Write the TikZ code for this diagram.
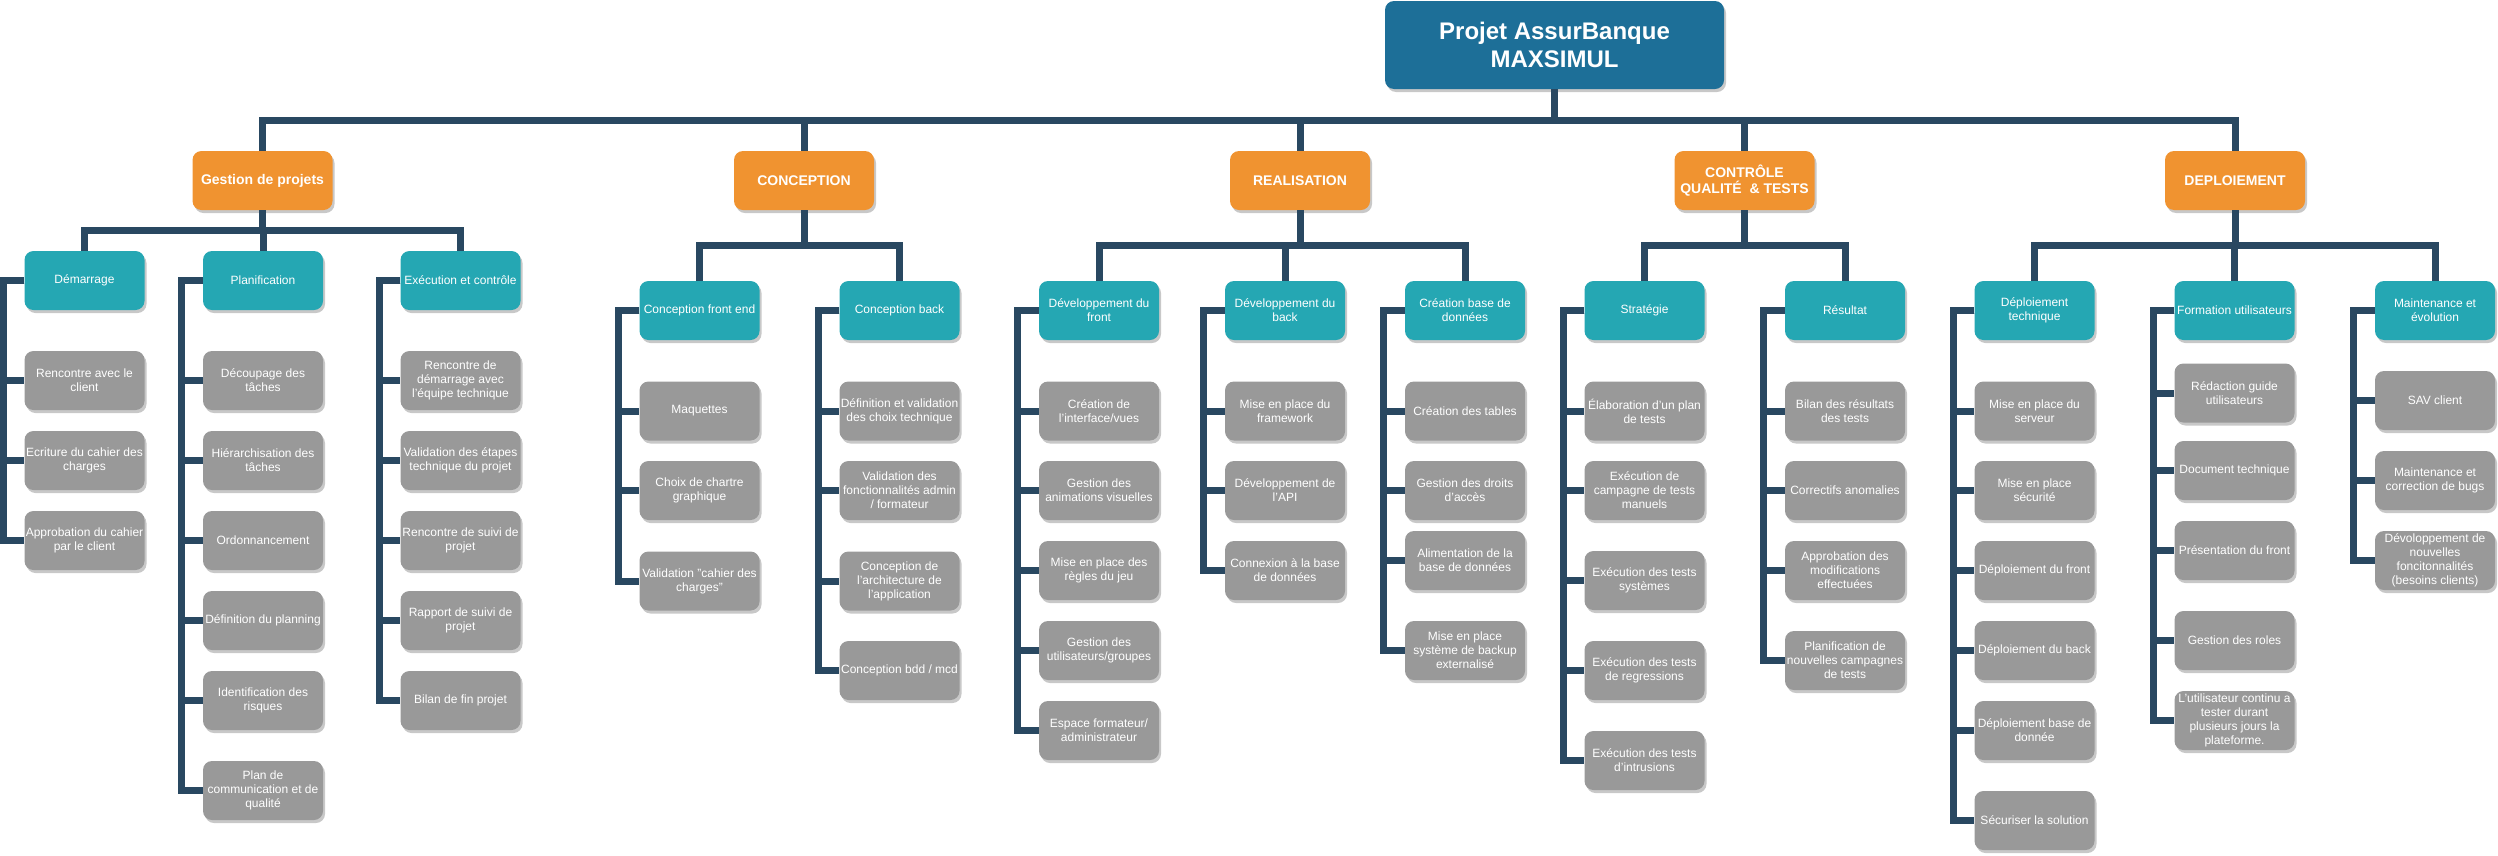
\documentclass[tikz,border=0pt]{standalone}
\usepackage{fontspec}
\setmainfont{Liberation Sans}
\usetikzlibrary{shadows}
\definecolor{rootc}{RGB}{29,111,152}
\definecolor{orangec}{RGB}{240,147,48}
\definecolor{tealc}{RGB}{37,167,179}
\definecolor{grayc}{RGB}{153,153,153}
\definecolor{linec}{RGB}{41,72,97}
\definecolor{shadowc}{RGB}{200,200,200}
\tikzset{
  conn/.style={draw=linec, line width=7pt, line join=miter},
  box/.style={rectangle, rounded corners=9pt, text=white, align=center, inner sep=0pt,
    drop shadow={shadow xshift=2pt, shadow yshift=-3pt, fill=shadowc, opacity=1}},
  rootbox/.style={box, fill=rootc, minimum width=339pt, minimum height=88pt, font=\bfseries\fontsize{24}{28}\selectfont},
  phase/.style={box, fill=orangec, minimum width=140pt, minimum height=59pt, font=\bfseries\fontsize{14}{16}\selectfont},
  sub/.style={box, fill=tealc, minimum width=120pt, minimum height=59pt, font=\fontsize{12}{14}\selectfont},
  leaf/.style={box, fill=grayc, minimum width=120pt, minimum height=59pt, font=\fontsize{12}{14}\selectfont},
}
\begin{document}
\begin{tikzpicture}[x=1pt, y=-1pt]
\path[use as bounding box] (0,0) rectangle (2498,855);

% root
\node[rootbox] (root) at (1554.5,45) {Projet AssurBanque\\MAXSIMUL};

% phases
\node[phase] (gp)   at (262.5,180.5) {Gestion de projets};
\node[phase] (conc) at (804,180.5) {CONCEPTION};
\node[phase] (real) at (1300,180.5) {REALISATION};
\node[phase] (ctrl) at (1744.5,180.5) {CONTRÔLE\\QUALITÉ~~\& TESTS};
\node[phase] (depl) at (2235,180.5) {DEPLOIEMENT};

% sub-phases
\node[sub] (dem)   at (84.5,280.5) {Démarrage};
\node[sub] (plan)  at (263,280.5) {Planification};
\node[sub] (exe)   at (460.5,280.5) {Exécution et contrôle};
\node[sub] (cfe)   at (699.5,310.5) {Conception front end};
\node[sub] (cbk)   at (899.5,310.5) {Conception back};
\node[sub] (dvf)   at (1099,310.5) {Développement du\\front};
\node[sub] (dvb)   at (1285,310.5) {Développement du\\back};
\node[sub] (cbd)   at (1465,310.5) {Création base de\\données};
\node[sub] (strat) at (1644.5,310.5) {Stratégie};
\node[sub] (res)   at (1845,310.5) {Résultat};
\node[sub] (dtech) at (2034.5,310.5) {Déploiement\\technique};
\node[sub] (form)  at (2234.5,310.5) {Formation utilisateurs};
\node[sub] (maint) at (2435,310.5) {Maintenance et\\évolution};

% leaves: Démarrage
\node[leaf] (dem1) at (84.5,380.5) {Rencontre avec le\\client};
\node[leaf] (dem2) at (84.5,460.5) {Ecriture du cahier des\\charges};
\node[leaf] (dem3) at (84.5,540.5) {Approbation du cahier\\par le client};
% Planification
\node[leaf] (plan1) at (263,380.5) {Découpage des\\tâches};
\node[leaf] (plan2) at (263,460.5) {Hiérarchisation des\\tâches};
\node[leaf] (plan3) at (263,540.5) {Ordonnancement};
\node[leaf] (plan4) at (263,620.5) {Définition du planning};
\node[leaf] (plan5) at (263,700.5) {Identification des\\risques};
\node[leaf] (plan6) at (263,790.5) {Plan de\\communication et de\\qualité};
% Exécution
\node[leaf] (exe1) at (460.5,380.5) {Rencontre de\\démarrage avec\\l'équipe technique};
\node[leaf] (exe2) at (460.5,460.5) {Validation des étapes\\technique du projet};
\node[leaf] (exe3) at (460.5,540.5) {Rencontre de suivi de\\projet};
\node[leaf] (exe4) at (460.5,620.5) {Rapport de suivi de\\projet};
\node[leaf] (exe5) at (460.5,700.5) {Bilan de fin projet};
% Conception front end
\node[leaf] (cfe1) at (699.5,411) {Maquettes};
\node[leaf] (cfe2) at (699.5,490.5) {Choix de chartre\\graphique};
\node[leaf] (cfe3) at (699.5,581) {Validation "cahier des\\charges"};
% Conception back
\node[leaf] (cbk1) at (899.5,411) {Définition et validation\\des choix technique};
\node[leaf] (cbk2) at (899.5,490.5) {Validation des\\fonctionnalités admin\\/ formateur};
\node[leaf] (cbk3) at (899.5,581) {Conception de\\l'architecture de\\l'application};
\node[leaf] (cbk4) at (899.5,670.5) {Conception bdd / mcd};
% Développement du front
\node[leaf] (dvf1) at (1099,411) {Création de\\l'interface/vues};
\node[leaf] (dvf2) at (1099,490.5) {Gestion des\\animations visuelles};
\node[leaf] (dvf3) at (1099,570.5) {Mise en place des\\règles du jeu};
\node[leaf] (dvf4) at (1099,650.5) {Gestion des\\utilisateurs/groupes};
\node[leaf] (dvf5) at (1099,730.5) {Espace formateur/\\administrateur};
% Développement du back
\node[leaf] (dvb1) at (1285,411) {Mise en place du\\framework};
\node[leaf] (dvb2) at (1285,490.5) {Développement de\\l'API};
\node[leaf] (dvb3) at (1285,570.5) {Connexion à la base\\de données};
% Création base de données
\node[leaf] (cbd1) at (1465,411) {Création des tables};
\node[leaf] (cbd2) at (1465,490.5) {Gestion des droits\\d'accès};
\node[leaf] (cbd3) at (1465,560.5) {Alimentation de la\\base de données};
\node[leaf] (cbd4) at (1465,650.5) {Mise en place\\système de backup\\externalisé};
% Stratégie
\node[leaf] (strat1) at (1644.5,411) {Élaboration d'un plan\\de tests};
\node[leaf] (strat2) at (1644.5,490.5) {Exécution de\\campagne de tests\\manuels};
\node[leaf] (strat3) at (1644.5,580.5) {Exécution des tests\\systèmes};
\node[leaf] (strat4) at (1644.5,670.5) {Exécution des tests\\de regressions};
\node[leaf] (strat5) at (1644.5,760.5) {Exécution des tests\\d'intrusions};
% Résultat
\node[leaf] (res1) at (1845,411) {Bilan des résultats\\des tests};
\node[leaf] (res2) at (1845,490.5) {Correctifs anomalies};
\node[leaf] (res3) at (1845,570.5) {Approbation des\\modifications\\effectuées};
\node[leaf] (res4) at (1845,660.5) {Planification de\\nouvelles campagnes\\de tests};
% Déploiement technique
\node[leaf] (dtech1) at (2034.5,411) {Mise en place du\\serveur};
\node[leaf] (dtech2) at (2034.5,490.5) {Mise en place\\sécurité};
\node[leaf] (dtech3) at (2034.5,570.5) {Déploiement du front};
\node[leaf] (dtech4) at (2034.5,650.5) {Déploiement du back};
\node[leaf] (dtech5) at (2034.5,730.5) {Déploiement base de\\donnée};
\node[leaf] (dtech6) at (2034.5,820.5) {Sécuriser la solution};
% Formation utilisateurs
\node[leaf] (form1) at (2234.5,393) {Rédaction guide\\utilisateurs};
\node[leaf] (form2) at (2234.5,470.5) {Document technique};
\node[leaf] (form3) at (2234.5,550.5) {Présentation du front};
\node[leaf] (form4) at (2234.5,640.5) {Gestion des roles};
\node[leaf] (form5) at (2234.5,720.5) {L'utilisateur continu a\\tester durant\\plusieurs jours la\\plateforme.};
% Maintenance
\node[leaf] (maint1) at (2435,400.5) {SAV client};
\node[leaf] (maint2) at (2435,480.5) {Maintenance et\\correction de bugs};
\node[leaf] (maint3) at (2435,560.5) {Dévoloppement de\\nouvelles\\foncitonnalités\\(besoins clients)};

% connectors root -> phases
\foreach \p in {gp,conc,real,ctrl,depl}
  \draw[conn] (root.south) -- ++(0,31) -| (\p.north);

% phases -> sub-phases
\foreach \s in {dem,plan,exe}
  \draw[conn] (gp.south) -- ++(0,20) -| (\s.north);
\foreach \s in {cfe,cbk}
  \draw[conn] (conc.south) -- ++(0,35) -| (\s.north);
\foreach \s in {dvf,dvb,cbd}
  \draw[conn] (real.south) -- ++(0,35) -| (\s.north);
\foreach \s in {strat,res}
  \draw[conn] (ctrl.south) -- ++(0,35) -| (\s.north);
\foreach \s in {dtech,form,maint}
  \draw[conn] (depl.south) -- ++(0,35) -| (\s.north);

% sub-phases -> leaves
\foreach \s/\n in {dem/3,plan/6,exe/5,cfe/3,cbk/4,dvf/5,dvb/3,cbd/4,strat/5,res/4,dtech/6,form/5,maint/3}
  \foreach \i in {1,...,\n}
    \draw[conn] (\s.west) -- ++(-21,0) |- (\s\i.west);
\end{tikzpicture}
\end{document}
